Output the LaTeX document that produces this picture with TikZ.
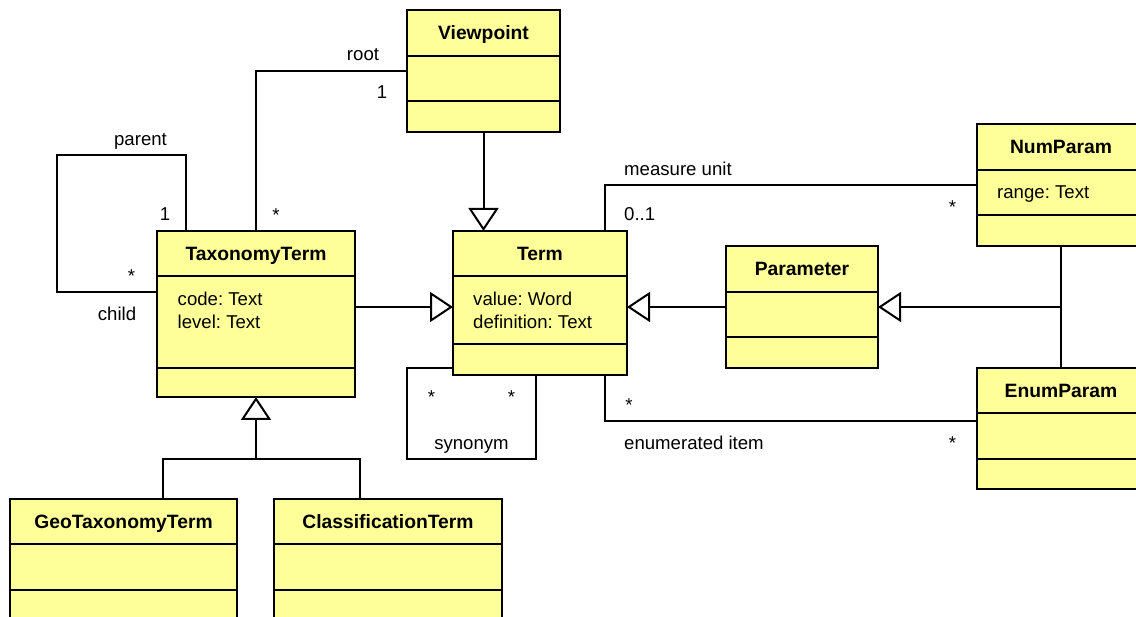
\documentclass[tikz,border=0pt]{standalone}
\usepackage{fontspec}
\setmainfont{Liberation Sans}
\usetikzlibrary{calc,arrows.meta}
\definecolor{umlyellow}{RGB}{255,255,153}
\frenchspacing
\begin{document}
\begin{tikzpicture}[x=1pt,y=-1pt,
  classbox/.style={draw,fill=umlyellow,line width=2pt,inner sep=0pt,outer sep=0pt},
  divider/.style={line width=2pt},
  classname/.style={anchor=base,inner sep=0pt,font=\fontsize{19.3}{22}\selectfont\bfseries},
  attr/.style={anchor=base west,inner sep=0pt,font=\fontsize{18.6}{22}\selectfont},
  lbl/.style={anchor=base,inner sep=0pt,font=\fontsize{18.6}{22}\selectfont},
  lblw/.style={anchor=base west,inner sep=0pt,font=\fontsize{18.6}{22}\selectfont},
  assoc/.style={line width=2pt},
  gen/.style={line width=2pt,-{Triangle[open,length=23pt,width=30pt]}}]
\clip (0,0) rectangle (1136,617);
\fill[white] (0,0) rectangle (1136,617);

% class boxes
\node[classbox,minimum width=153pt,minimum height=122pt] (vp) at (483.5,71) {};
\node[classbox,minimum width=198pt,minimum height=166pt] (tax) at (256,314) {};
\node[classbox,minimum width=174pt,minimum height=144pt] (term) at (540,303) {};
\node[classbox,minimum width=152pt,minimum height=122pt] (param) at (802,307) {};
\node[classbox,minimum width=168pt,minimum height=122pt] (num) at (1061,185) {};
\node[classbox,minimum width=168pt,minimum height=121pt] (enum) at (1061,428.5) {};
\node[classbox,minimum width=227pt,minimum height=122pt] (geo) at (123.5,560) {};
\node[classbox,minimum width=228pt,minimum height=122pt] (cls) at (388,560) {};

% compartment dividers
\foreach \c/\a/\b in {vp/46/91, tax/45/137, term/45/113, param/46/91,
                      num/46/91, enum/45/91, geo/45/91, cls/45/91}{
  \draw[divider] ($(\c.north west)+(0,\a)$) -- ($(\c.north east)+(0,\a)$);
  \draw[divider] ($(\c.north west)+(0,\b)$) -- ($(\c.north east)+(0,\b)$);
}

% class names
\node[classname] (vp-n) at ($(vp.north)+(0,30)$) {Viewpoint};
\node[classname] (tax-n) at ($(tax.north)+(0,30)$) {TaxonomyTerm};
\node[classname] (term-n) at ($(term.north)+(0,30)$) {Term};
\node[classname] (param-n) at ($(param.north)+(0,30)$) {Parameter};
\node[classname] (num-n) at ($(num.north)+(0,30)$) {NumParam};
\node[classname] (enum-n) at ($(enum.north)+(0,30)$) {EnumParam};
\node[classname] (geo-n) at ($(geo.north)+(0,30)$) {GeoTaxonomyTerm};
\node[classname] (cls-n) at ($(cls.north)+(0,30)$) {ClassificationTerm};

% attributes
\node[attr] (tax-a1) at ($(tax.north west)+(20.5,75)$) {code: Text};
\node[attr] (tax-a2) at ($(tax.north west)+(20.5,98)$) {level: Text};
\node[attr] (term-a1) at ($(term.north west)+(20,75)$) {value: Word};
\node[attr] (term-a2) at ($(term.north west)+(20,98)$) {definition: Text};
\node[attr] (num-a1) at ($(num.north west)+(20,75)$) {range: Text};

% associations
\draw[assoc] (tax.north) |- (vp.west);
\coordinate (loopA) at (57,155);
\draw[assoc] ($(tax.north west)+(29,0)$) |- (loopA) |- ($(tax.north west)+(0,61)$);
\draw[assoc] ($(term.north east)+(-22,0)$) |- (num.west);
\draw[assoc] ($(term.south east)+(-22,0)$) |- ($(enum.north west)+(0,53)$);
\coordinate (synA) at (407,459);
\draw[assoc] ($(term.south west)+(0,-7)$) -| (synA) -| ($(term.south west)+(83,0)$);

% generalizations
\draw[gen] ($(tax.north east)+(0,76)$) -- ($(term.north west)+(0,76)$);
\draw[gen] (vp.south) -- (vp.south |- term.north);
\draw[gen] (param.west) -- (param.west -| term.east);
\draw[assoc] (num.south) -- (enum.north);
\coordinate (pjoin) at (num.south |- param.east);
\draw[gen] (pjoin) -- (param.east);
\coordinate (genjoin) at ($(tax.south)+(0,62)$);
\draw[gen] (genjoin) -- (tax.south);
\draw[assoc] ($(geo.north west)+(152.5,0)$) |- (genjoin) -| ($(cls.north west)+(86,0)$);

% role names and multiplicities
\node[lbl] (l-root) at (363,61) {root};
\node[lbl] (l-root1) at (382,99) {1};
\node[lbl] (l-rootm) at (276,222) {*};
\node[lbl] (l-parent) at (140.5,146) {parent};
\node[lbl] (l-parent1) at (165,221) {1};
\node[lbl] (l-childm) at (131.5,283) {*};
\node[lbl] (l-child) at (117,321) {child};
\node[lblw] (l-mu) at (624,176) {measure unit};
\node[lblw] (l-mu1) at (624,221) {0..1};
\node[lbl] (l-mum) at (952.5,214) {*};
\node[lbl] (l-eim1) at (629,412) {*};
\node[lblw] (l-ei) at (624,450) {enumerated item};
\node[lbl] (l-eim2) at (952.5,450) {*};
\node[lbl] (l-syn1) at (431.6,404) {*};
\node[lbl] (l-syn2) at (511.6,404) {*};
\node[lbl] (l-syn) at (471.5,450) {synonym};
\end{tikzpicture}
\end{document}
